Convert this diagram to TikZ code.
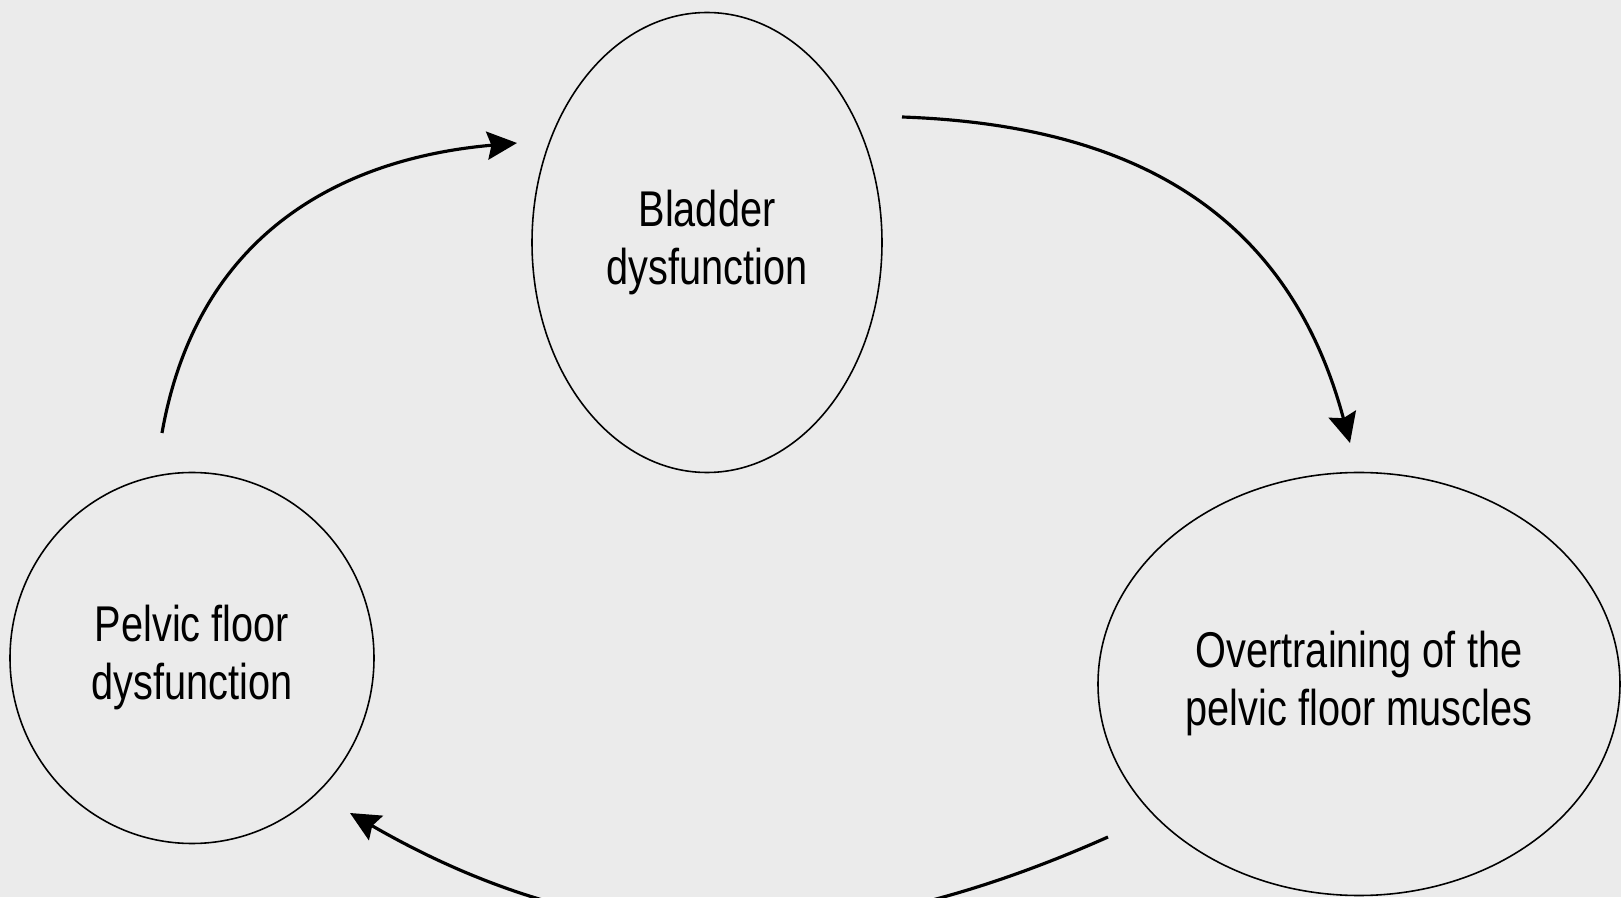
\documentclass[tikz,border=0pt]{standalone}
\usepackage{fontspec}
\setmainfont{Liberation Sans}[FakeStretch=0.79]
\usepackage{tikz}
\usetikzlibrary{positioning, arrows.meta, shapes.geometric}

\definecolor{paper}{RGB}{235,235,235}

\begin{document}
\begin{tikzpicture}[
    state/.style={ellipse, draw=black, line width=0.45pt, inner sep=0pt,
                  align=center, font=\fontsize{14.3}{16.5}\selectfont},
    arrow/.style={-{Stealth[length=8.5pt, width=8pt, inset=1.2pt]}, line width=0.9pt}
]

    % === Background and frame ===
    \fill[paper] (0, 0) rectangle (16.21, 8.97);
    \useasboundingbox (0, 0) rectangle (16.21, 8.97);
    \clip (0, 0) rectangle (16.21, 8.97);

    % === The three states ===
    \node[state, minimum width=3.5cm, minimum height=4.6cm] (bladder) at (7.07, 6.545)
        {Bladder\\dysfunction};
    \node[state, minimum width=3.64cm, minimum height=3.71cm] (pelvic) at (1.92, 2.39)
        {Pelvic floor\\dysfunction};
    \node[state, minimum width=5.22cm, minimum height=4.23cm] (overtrain) at (13.59, 2.13)
        {Overtraining of the\\pelvic floor muscles};

    % === Cycle arrows ===
    \draw[arrow] ([shift={(1.95, 1.255)}]bladder.center)
        to[out=-2, in=105, out looseness=1, in looseness=1.15]
        ([shift={(-0.09, 2.41)}]overtrain.center);
    \draw[arrow] ([shift={(-2.51, -1.53)}]overtrain.center)
        to[out=204, in=330] ([shift={(1.58, -1.55)}]pelvic.center);
    \draw[arrow] ([shift={(-0.30, 2.25)}]pelvic.center)
        to[out=80, in=185, out looseness=1.2, in looseness=0.9]
        ([shift={(-1.90, 0.995)}]bladder.center);

\end{tikzpicture}
\end{document}
